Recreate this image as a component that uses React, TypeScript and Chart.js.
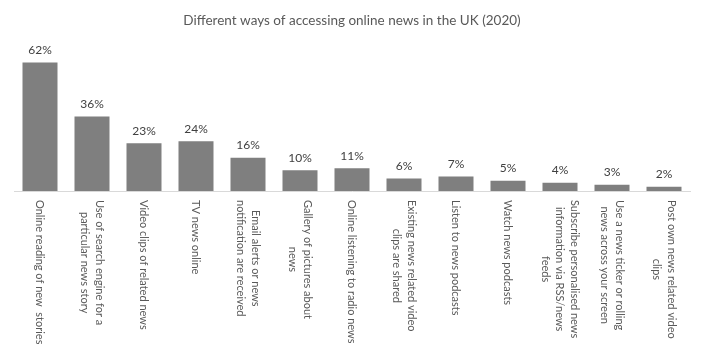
import React, { useEffect, useRef } from "react";
import { Chart, registerables } from "chart.js";

Chart.register(...registerables);

const TITLE = "Different ways of accessing online news in the UK (2020)";

const categories: (string | string[])[] = [
  "Online reading of new  stories",
  ["Use of search engine for a", "particular news story"],
  "Video clips of related news",
  "TV news online",
  ["Email alerts or news", "notification are received"],
  ["Gallery of pictures about", "news"],
  "Online listening to radio news",
  ["Existing news related video", "clips are shared"],
  "Listen to news podcasts",
  "Watch news podcasts",
  ["Subscribe personalised news", "information via RSS/news", "feeds"],
  ["Use a news ticker or rolling", "news across your screen"],
  ["Post own news related video", "clips"],
];

const shares: number[] = [62, 36, 23, 24, 16, 10, 11, 6, 7, 5, 4, 3, 2];

const FONT = "Lato";

const valueLabelPlugin = {
  id: "valueLabels",
  afterDatasetsDraw(chart: any) {
    const ctx = chart.ctx;
    const meta = chart.getDatasetMeta(0);
    ctx.save();
    ctx.font = `12px ${FONT}`;
    ctx.fillStyle = "#404040";
    ctx.textAlign = "center";
    ctx.textBaseline = "middle";
    meta.data.forEach((bar: any, i: number) => {
      ctx.fillText(`${shares[i]}%`, bar.x, bar.y - 12.5);
    });
    ctx.restore();
  },
};

const categoryLabelPlugin = {
  id: "categoryLabels",
  afterDraw(chart: any) {
    const ctx = chart.ctx;
    const xs = chart.scales.x;
    ctx.save();
    ctx.font = `11px ${FONT}`;
    ctx.fillStyle = "#595959";
    ctx.textAlign = "center";
    ctx.textBaseline = "middle";
    const lh = 14.5;
    categories.forEach((lab, i) => {
      const lines = Array.isArray(lab) ? lab : [lab];
      const x = xs.getPixelForValue(i);
      const top = xs.top + 9;
      const maxW = Math.max(...lines.map((l) => ctx.measureText(l).width));
      const n = lines.length;
      ctx.save();
      ctx.translate(x, top);
      ctx.rotate(Math.PI / 2);
      lines.forEach((l, j) => {
        const off = (j - (n - 1) / 2) * lh;
        ctx.fillText(l, maxW / 2, off);
      });
      ctx.restore();
    });
    ctx.restore();
  },
};

export default function App() {
  const ref = useRef<HTMLCanvasElement>(null);

  useEffect(() => {
    document.body.style.margin = "0";
    const canvas = ref.current!;
    const chart = new Chart(canvas, {
      type: "bar",
      data: {
        labels: categories as any,
        datasets: [
          {
            data: shares,
            backgroundColor: "#7f7f7f",
            barPercentage: 0.673,
            categoryPercentage: 1,
          },
        ],
      },
      options: {
        responsive: false,
        animation: false,
        layout: { padding: { left: 14, right: 15, top: 0, bottom: 0 } },
        plugins: {
          legend: { display: false },
          tooltip: { enabled: false },
          title: {
            display: true,
            text: TITLE,
            color: "#595959",
            font: { family: FONT, size: 13.5, weight: "normal" as any, lineHeight: 1.2 },
            padding: { top: 13, bottom: 16.8 },
          },
        },
        scales: {
          x: {
            grid: { display: false },
            border: { color: "#d9d9d9", width: 1 },
            ticks: { display: false },
            afterFit: (s: any) => {
              s.height = 162;
            },
          },
          y: {
            display: false,
            min: 0,
            max: 70,
          },
        },
      },
      plugins: [valueLabelPlugin, categoryLabelPlugin],
    });
    return () => chart.destroy();
  }, []);

  return <canvas ref={ref} width={705} height={353} style={{ display: "block" }} />;
}
